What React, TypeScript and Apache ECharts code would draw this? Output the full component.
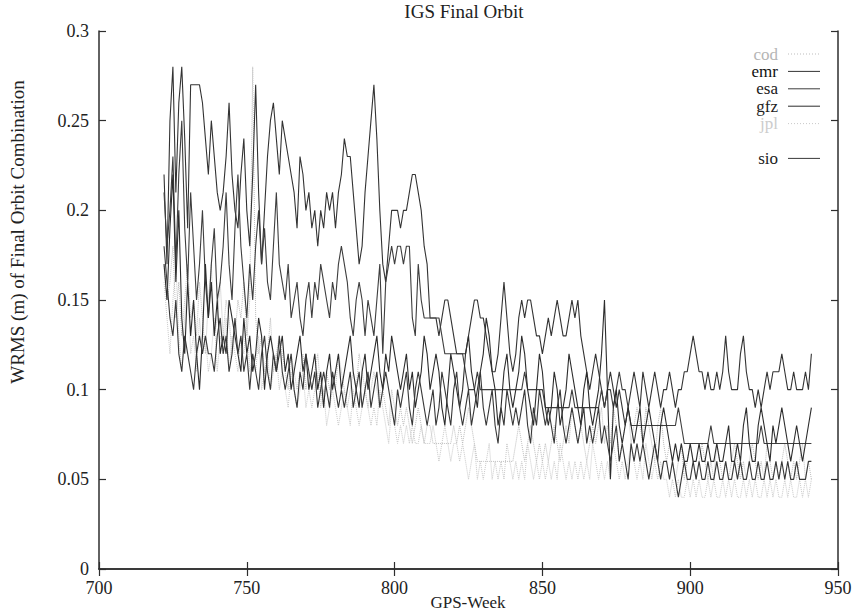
import React, { useEffect, useRef } from "react";
import * as echarts from "echarts";

const TITLE = "IGS Final Orbit";
const X_NAME = "GPS-Week";
const Y_NAME = "WRMS (m) of Final Orbit Combination";
const WEEK_START = 722;
const X_TICKS = [700, 750, 800, 850, 900, 950];
const Y_TICKS = [0, 0.05, 0.1, 0.15, 0.2, 0.25, 0.3];

// values in centimetres (0.01 m), one per GPS week from 722 to 941
const cod = [
  17,15,16,18,14,16,13,15,17,14,
  15,13,16,14,12,15,17,13,14,16,
  13,15,14,12,13,15,14,16,13,15,
  28,14,12,13,11,12,14,11,12,13,
  12,11,10,12,11,10,11,12,10,11,
  10,11,12,10,9,11,10,11,10,12,
  11,10,9,10,11,10,12,11,10,9,
  10,11,10,9,10,9,8,10,9,8,
  9,8,9,8,7,8,9,8,7,8,
  8,7,7,7,7,7,7,7,8,7,
  8,7,8,9,8,7,6,6,6,6,
  6,6,6,6,6,6,6,6,6,7,
  8,7,6,7,8,7,6,7,6,7,
  6,7,8,7,6,7,8,7,9,8,
  7,8,7,6,7,8,7,8,9,7,
  8,7,9,8,6,7,8,9,7,8,
  9,8,7,9,8,7,6,8,9,7,
  6,7,6,5,6,7,5,6,7,6,
  5,6,7,6,5,6,5,7,6,5,
  6,5,6,7,6,5,6,5,6,7,
  6,5,6,5,7,6,5,6,5,6,
  7,6,5,6,5,6,7,5,6,5,
];
const emr = [
  22,17,25,28,21,26,28,24,19,27,
  27,27,27,26,24,22,25,23,21,20,
  21,23,26,22,20,19,22,24,20,18,
  22,27,21,17,20,23,25,26,24,22,
  25,24,23,22,21,19,23,22,20,21,
  19,20,18,20,19,21,20,21,19,21,
  22,24,23,23,21,19,17,18,21,23,
  25,27,24,20,17,16,18,20,20,20,
  19,20,20,21,22,22,21,20,18,17,
  14,14,14,13,14,15,15,14,13,12,
  12,12,12,13,14,15,15,14,14,13,
  12,11,11,12,14,16,14,12,11,12,
  14,15,14,15,15,14,13,13,12,13,
  14,13,14,15,14,13,13,14,15,14,
  15,13,12,11,10,11,12,11,10,9,
  10,11,10,9,10,9,8,9,10,11,
  10,9,11,10,9,10,11,10,9,10,
  10,11,10,9,10,10,11,11,12,13,
  12,11,11,10,11,10,10,11,10,11,
  13,11,10,10,10,12,13,11,10,10,
  9,10,9,10,11,10,11,11,11,12,
  11,10,10,11,10,10,10,11,10,12,
];
const esa = [
  21,18,20,23,17,22,25,19,16,21,
  18,15,17,20,16,14,17,19,15,16,
  18,21,17,15,19,22,18,16,14,17,
  15,18,20,17,19,16,15,18,21,17,
  16,15,17,14,15,16,14,13,15,16,
  14,16,15,17,16,15,14,16,15,17,
  18,17,16,14,13,15,16,15,13,15,
  14,13,15,17,12,16,17,18,17,18,
  18,17,18,18,14,13,17,15,14,14,
  14,14,14,14,13,12,12,12,12,12,
  12,12,11,10,10,10,11,10,10,10,
  10,10,10,10,10,10,10,10,10,10,
  10,10,11,10,10,10,10,10,10,9,
  9,9,9,9,9,9,9,9,10,9,
  9,9,9,9,9,9,9,9,10,9,
  10,10,9,10,11,10,10,9,8,8,
  8,8,8,8,8,8,8,8,8,8,
  8,8,8,8,9,8,7,7,7,7,
  7,7,7,7,7,8,7,7,7,7,
  7,7,7,7,7,7,7,7,7,7,
  7,7,8,7,7,7,7,7,7,7,
  7,7,7,7,7,7,7,7,7,7,
];
const gfz = [
  17,15,19,22,16,20,14,12,16,13,
  15,12,10,13,17,14,16,13,15,12,
  13,12,15,14,13,12,11,14,12,13,
  11,12,14,13,10,12,13,12,11,12,
  13,11,12,10,11,12,13,11,12,10,
  11,12,10,11,9,11,12,10,11,12,
  10,11,12,13,11,10,9,11,12,10,
  11,12,13,11,10,12,11,13,12,11,
  10,11,12,10,11,9,10,11,13,12,
  10,11,12,11,9,8,10,12,11,10,
  9,10,12,13,11,10,9,11,12,14,
  13,11,10,8,9,11,12,10,9,10,
  11,13,12,10,9,8,10,12,11,9,
  8,9,11,10,8,9,10,12,11,10,
  9,8,10,11,9,8,9,10,12,15,
  10,5,9,10,8,7,8,9,8,7,
  8,9,7,8,9,8,7,6,8,9,
  8,7,6,7,6,7,6,6,7,6,
  6,7,6,6,7,6,6,7,6,6,
  7,8,6,6,7,6,8,9,7,6,
  6,8,9,8,7,6,8,7,8,9,
  8,7,6,7,8,7,6,7,8,9,
];
const jpl = [
  16,14,12,15,17,13,11,14,16,12,
  13,11,14,12,13,11,12,14,11,13,
  12,14,11,13,12,11,13,12,14,11,
  12,11,13,10,11,12,10,11,12,10,
  11,10,9,11,10,9,10,11,9,10,
  9,10,11,9,10,8,9,10,9,8,
  9,10,9,8,10,9,8,9,10,9,
  8,9,8,10,9,8,7,9,8,7,
  8,7,8,7,8,7,7,8,7,7,
  7,8,7,6,7,8,7,6,7,7,
  6,7,6,5,6,7,5,6,5,6,
  7,5,6,5,6,5,7,6,5,6,
  5,6,5,7,6,5,6,5,6,5,
  6,5,6,5,7,6,5,6,5,6,
  5,6,5,6,5,7,6,5,6,5,
  6,5,7,6,5,6,5,6,7,6,
  5,6,5,7,6,5,6,5,6,5,
  5,4,5,4,5,4,4,5,4,5,
  4,5,4,4,5,4,5,4,4,5,
  4,5,4,5,4,4,5,4,5,4,
  5,4,4,5,4,5,4,5,4,4,
  5,4,5,4,4,5,4,5,4,5,
];
const sio = [
  18,16,14,13,15,12,11,13,12,11,
  10,12,13,12,13,12,12,11,13,14,
  12,13,11,12,14,12,13,11,12,10,
  12,11,10,12,13,11,10,12,11,13,
  11,10,11,12,10,9,11,10,12,11,
  10,11,9,10,11,10,9,11,10,9,
  10,9,10,11,9,10,11,9,10,11,
  9,10,11,9,10,11,10,9,8,10,
  9,10,11,9,8,10,11,10,9,8,
  9,10,8,9,11,10,9,8,10,11,
  9,8,9,10,8,9,10,11,9,8,
  9,10,8,7,9,8,10,9,8,9,
  8,9,10,8,7,9,8,10,9,8,
  9,8,7,9,10,8,7,8,9,8,
  7,8,9,7,8,7,8,9,7,8,
  7,6,7,8,6,7,6,5,7,6,
  7,6,7,6,5,6,7,6,5,6,
  6,5,6,5,4,5,6,5,5,6,
  5,6,5,5,6,5,5,6,5,5,
  6,5,5,6,5,6,5,5,6,5,
  5,6,5,5,6,5,5,6,5,6,
  5,6,5,5,6,5,5,5,6,6,
];

const SERIES_NAMES = ["cod", "emr", "esa", "gfz", "jpl", "sio"];
const SERIES_VALUES = [cod, emr, esa, gfz, jpl, sio];
const SERIES_COLORS = ["#bdbdbd", "#333333", "#3e3e3e", "#2c2c2c", "#c9c9c9", "#383838"];
const LEGEND_TEXT_COLORS = ["#b5b5b5", "#111111", "#1a1a1a", "#1e1e1e", "#cccccc", "#1a1a1a"];
const SERIES_DASH = ["dotted", "solid", "solid", "solid", "dotted", "solid"];
const LEGEND_ROWS = [0, 1, 2, 3, 4, 6];

const FONT = '"Liberation Serif", "Times New Roman", serif';

export default function App() {
  const ref = useRef<HTMLDivElement>(null);
  useEffect(() => {
    if (!ref.current) return;
    const chart = echarts.init(ref.current, null, { renderer: "svg" });
    const order = [0, 4, 1, 2, 3, 5];
    const series = order.map((k) => ({
      name: SERIES_NAMES[k],
      type: "line",
      showSymbol: false,
      symbol: "none",
      z: SERIES_DASH[k] === "dotted" ? 1 : 2,
      data: SERIES_VALUES[k].map((v, i) => [WEEK_START + i, v / 100]),
      lineStyle: { color: SERIES_COLORS[k], width: SERIES_DASH[k] === "dotted" ? 1 : 1.1, type: SERIES_DASH[k] },
      itemStyle: { color: SERIES_COLORS[k] },
    }));

    const legendEls: any[] = [];
    SERIES_NAMES.forEach((n, k) => {
      const y = 54 + LEGEND_ROWS[k] * 17.4;
      legendEls.push({
        type: "text",
        x: 778,
        y,
        style: {
          text: n,
          font: `17px ${FONT}`,
          fill: LEGEND_TEXT_COLORS[k],
          textAlign: "right",
          textVerticalAlign: "middle",
        },
      });
      legendEls.push({
        type: "line",
        shape: { x1: 788, y1: y, x2: 820, y2: y },
        style: {
          stroke: SERIES_COLORS[k],
          lineWidth: 1,
          lineDash: SERIES_DASH[k] === "dotted" ? [1, 2] : null,
        },
      });
    });

    const axisLine = { show: true, lineStyle: { color: "#2e2e2e", width: 1.5 } };
    const tick = { show: true, inside: true, length: 7, lineStyle: { color: "#2e2e2e", width: 1.2 } };
    const fmt = (v: number) => String(Number(v.toFixed(2)));

    chart.setOption({
      animation: false,
      backgroundColor: "#ffffff",
      title: {
        text: TITLE,
        left: 464,
        top: 2,
        padding: 0,
        textAlign: "center",
        textStyle: { fontFamily: FONT, fontSize: 19, fontWeight: "normal", color: "#222" },
      },
      grid: { left: 99, right: 18, top: 31, bottom: 47, outerBoundsMode: "none", containLabel: false },
      xAxis: [
        {
          type: "value",
          min: X_TICKS[0],
          max: X_TICKS[X_TICKS.length - 1],
          interval: 50,
          axisLine,
          axisTick: tick,
          splitLine: { show: false },
          axisLabel: { fontFamily: FONT, fontSize: 18, color: "#222", margin: 10, formatter: fmt },
        },
        {
          type: "value",
          position: "top",
          min: X_TICKS[0],
          max: X_TICKS[X_TICKS.length - 1],
          interval: 50,
          axisLine,
          axisTick: tick,
          splitLine: { show: false },
          axisLabel: { show: false },
        },
      ],
      yAxis: [
        {
          type: "value",
          min: Y_TICKS[0],
          max: Y_TICKS[Y_TICKS.length - 1],
          interval: 0.05,
          axisLine,
          axisTick: tick,
          splitLine: { show: false },
          axisLabel: { fontFamily: FONT, fontSize: 18, color: "#222", margin: 10, formatter: fmt },
        },
        {
          type: "value",
          position: "right",
          min: Y_TICKS[0],
          max: Y_TICKS[Y_TICKS.length - 1],
          interval: 0.05,
          axisLine,
          axisTick: tick,
          splitLine: { show: false },
          axisLabel: { show: false },
        },
      ],
      graphic: [
        {
          type: "text",
          x: 17,
          y: 232,
          rotation: Math.PI / 2,
          style: {
            text: Y_NAME,
            font: `19px ${FONT}`,
            fill: "#222",
            textAlign: "center",
            textVerticalAlign: "middle",
          },
        },
        {
          type: "text",
          x: 468,
          y: 602,
          style: {
            text: X_NAME,
            font: `17px ${FONT}`,
            fill: "#222",
            textAlign: "center",
            textVerticalAlign: "middle",
          },
        },
        ...legendEls,
      ],
      series,
    });
    return () => chart.dispose();
  }, []);
  return <div ref={ref} style={{ width: 856, height: 616, position: "absolute", left: 0, top: 0 }} />;
}
